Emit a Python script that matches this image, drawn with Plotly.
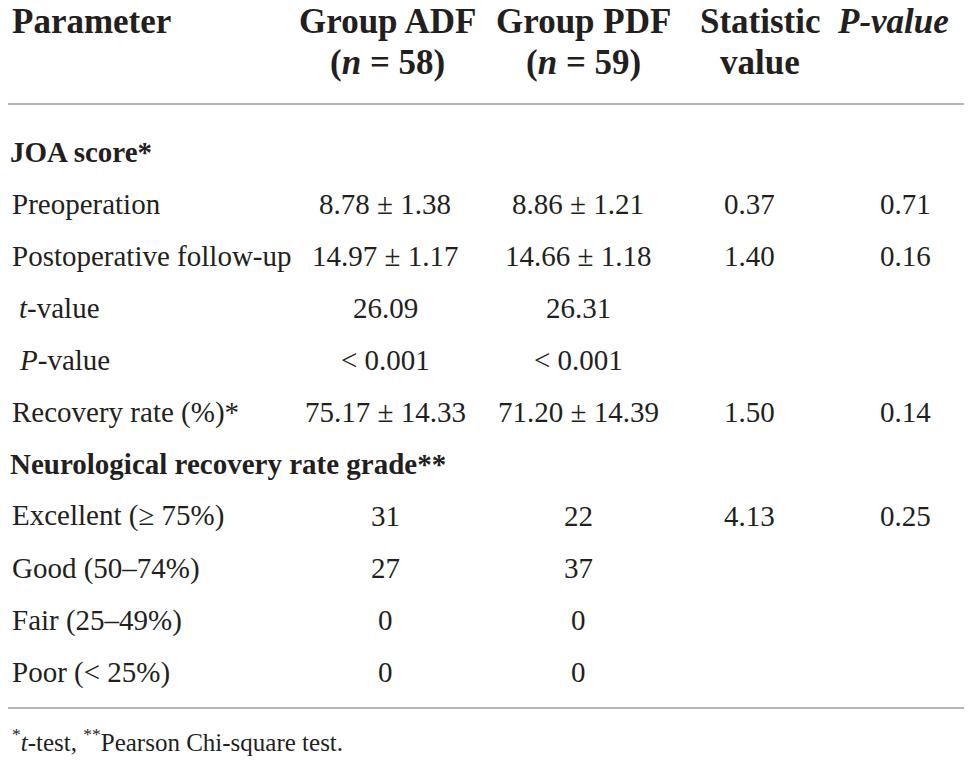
"""JOA score comparison table, drawn as a Plotly figure."""

import plotly.graph_objects as go

# The page body keeps an 8px margin, so the figure is 8px smaller
# and every layout position is measured from the window corner.
OFF = 8
W, H = 972 - OFF, 761 - OFF
FONT = "Liberation Serif"
INK = "#231f20"
RULE = "#b4b4b4"

# Table content
headers = ["Parameter", "Group ADF", "Group PDF", "Statistic", "<i>P-value</i>"]
headers_2 = ["", "(<i>n</i> = 58)", "(<i>n</i> = 59)", "value", ""]

params = [
    "JOA score*",
    "Preoperation",
    "Postoperative follow-up",
    "<i>t</i>-value",
    "<i>P</i>-value",
    "Recovery rate (%)*",
    "Neurological recovery rate grade**",
    "Excellent (≥ 75%)",
    "Good (50–74%)",
    "Fair (25–49%)",
    "Poor (< 25%)",
]
# row kind: "section" (bold heading), "sub" (indented), "row"
kinds = ["section", "row", "row", "sub", "sub", "row",
         "section", "row", "row", "row", "row"]
group_adf = ["", "8.78 ± 1.38", "14.97 ± 1.17", "26.09", "< 0.001",
             "75.17 ± 14.33", "", "31", "27", "0", "0"]
group_pdf = ["", "8.86 ± 1.21", "14.66 ± 1.18", "26.31", "< 0.001",
             "71.20 ± 14.39", "", "22", "37", "0", "0"]
statistic = ["", "0.37", "1.40", "", "", "1.50", "", "4.13", "", "", ""]
p_values = ["", "0.71", "0.16", "", "", "0.14", "", "0.25", "", "", ""]

footnote = "<sup>*</sup><i>t</i>-test, <sup>**</sup>Pearson Chi-square test."

# Layout (window pixels)
col_x = [10, 385, 578, 749, 905]
head_x = [10, 387, 583, 760, 893]
head_y = [22, 62]
row_y0, row_h = 152, 52
rule_y = [104, 708]


def px(x):
    return (x - OFF) / W


def py(y):
    return 1 - (y - OFF) / H


fig = go.Figure()
ann = []

for i, (h1, h2) in enumerate(zip(headers, headers_2)):
    for txt, y in ((h1, head_y[0]), (h2, head_y[1])):
        if not txt:
            continue
        ann.append(dict(
            text=f"<b>{txt}</b>", x=px(head_x[i]), y=py(y),
            xanchor="left" if i == 0 else "center", yanchor="middle",
            font={"size": 35, "family": FONT, "color": INK},
        ))

for r, name in enumerate(params):
    y = py(row_y0 + r * row_h)
    kind = kinds[r]
    if kind == "section":
        ann.append(dict(
            text=f"<b>{name}</b>", x=px(8), y=y, xanchor="left",
            yanchor="middle", font={"size": 29, "family": FONT, "color": INK},
        ))
        continue
    x0 = 17 if kind == "sub" else 10
    ann.append(dict(
        text=name, x=px(x0), y=y, xanchor="left", yanchor="middle",
        font={"size": 29, "family": FONT, "color": INK},
    ))
    for c, col in enumerate((group_adf, group_pdf, statistic, p_values), 1):
        if col[r]:
            ann.append(dict(
                text=col[r], x=px(col_x[c]), y=y, xanchor="center",
                yanchor="middle",
                font={"size": 29, "family": FONT, "color": INK},
            ))

ann.append(dict(
    text=footnote, x=px(10), y=py(740), xanchor="left", yanchor="middle",
    font={"size": 25, "family": FONT, "color": INK},
))

for a in ann:
    a.update(xref="paper", yref="paper", showarrow=False)

for y in rule_y:
    fig.add_shape(type="line", xref="paper", yref="paper",
                  x0=px(8), x1=px(966), y0=py(y), y1=py(y),
                  line={"color": RULE, "width": 2})

fig.update_layout(
    width=W, height=H,
    margin={"l": 0, "r": 0, "t": 0, "b": 0},
    paper_bgcolor="white", plot_bgcolor="white",
    xaxis={"visible": False, "range": [0, 1]},
    yaxis={"visible": False, "range": [0, 1]},
    annotations=ann,
    showlegend=False,
)

fig.write_html("out.html", config={"displayModeBar": False})
